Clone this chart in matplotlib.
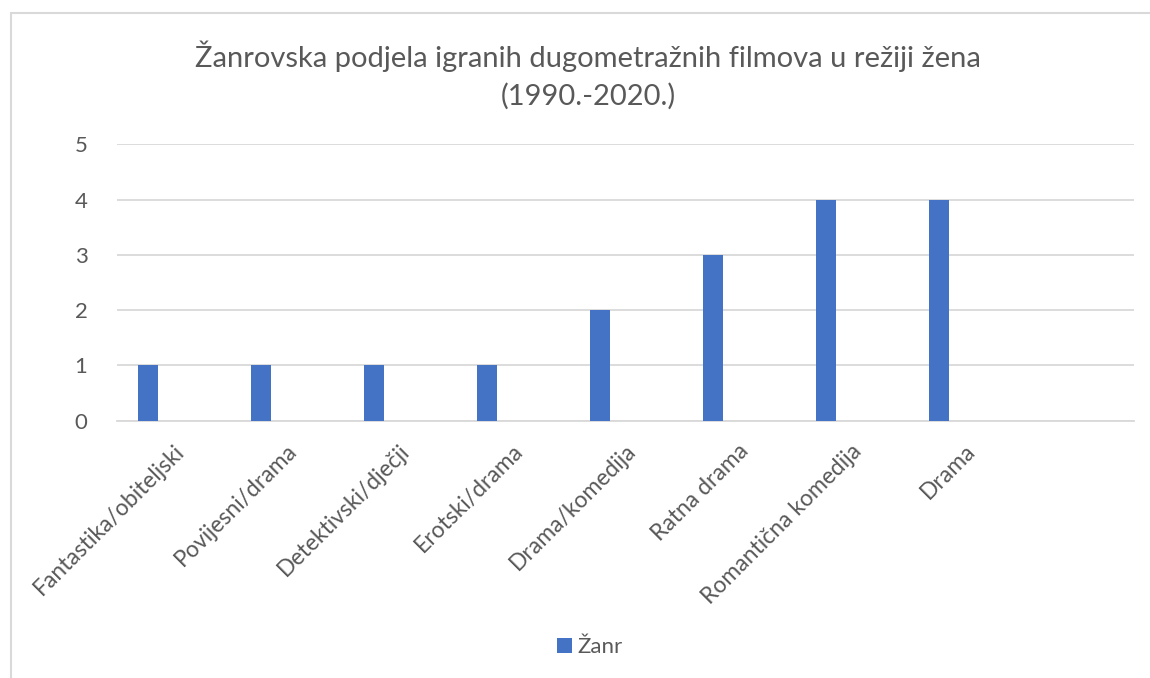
import matplotlib.pyplot as plt
from matplotlib.patches import Rectangle

# Genre counts (the last category is empty in the source chart)
genres = ["Fantastika/obiteljski", "Povijesni/drama", "Detektivski/dječji",
          "Erotski/drama", "Drama/komedija", "Ratna drama",
          "Romantična komedija", "Drama", ""]
counts = [1, 1, 1, 1, 2, 3, 4, 4, 0]
series_name = "Žanr"
title = "Žanrovska podjela igranih dugometražnih filmova u režiji žena\n(1990.-2020.)"
yticks = [0, 1, 2, 3, 4, 5]

plt.rcParams['font.family'] = ['Lato', 'DejaVu Sans']
text_color = '#595959'
bar_color = '#4472C4'
grid_color = '#D9D9D9'

W, H = 1150, 678
fig = plt.figure(figsize=(W / 100, H / 100), dpi=100)

# light chart frame (cut off at right and bottom like the screenshot)
fig.patches.append(Rectangle((11 / W, -0.1), 1.2, (H - 13) / H + 0.1,
                             transform=fig.transFigure, fill=False,
                             edgecolor=grid_color, linewidth=1.5))

ax = fig.add_axes([116.7 / W, (H - 420.7) / H, 1017 / W, 276.4 / H])

# bars sit left of the category centre (clustered layout in the original)
xs = [i - 0.223 for i in range(len(genres))]
bars = ax.bar(xs, counts, width=0.177, color=bar_color, label=series_name, zorder=3)

ax.set_xlim(-0.5, len(genres) - 0.5)
ax.set_ylim(0, 5)
ax.set_yticks(yticks)
ax.set_yticklabels([str(v) for v in yticks], fontsize=16, color=text_color)
ax.set_xticks(range(len(genres)))
ax.set_xticklabels(genres, rotation=45, ha='right', va='top',
                   rotation_mode='anchor', fontsize=16.5, color=text_color)
ax.tick_params(axis='both', length=0)
ax.tick_params(axis='y', pad=21)
ax.tick_params(axis='x', pad=14)

ax.yaxis.grid(True, color=grid_color, linewidth=1.3, zorder=0)
for side in ['top', 'right', 'left']:
    ax.spines[side].set_visible(False)
ax.spines['bottom'].set_color(grid_color)
ax.spines['bottom'].set_linewidth(1.3)

fig.text(588 / W, 1 - 75 / H, title, ha='center', va='center',
         fontsize=21, color=text_color, linespacing=1.5)

fig.legend(handles=[bars], labels=[series_name], loc='center',
           bbox_to_anchor=(590 / W, 1 - 647 / H), frameon=False,
           fontsize=16, labelcolor=text_color, handlelength=0.65,
           handleheight=0.65, handletextpad=0.25)

plt.savefig('out.png', dpi=100)
